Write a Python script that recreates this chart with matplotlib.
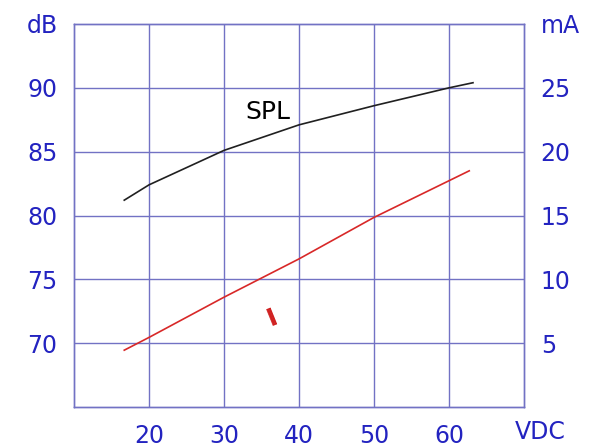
import matplotlib
matplotlib.use("Agg")
import matplotlib.pyplot as plt

# Data
spl_v = [16.7, 20, 30, 40, 50, 60, 63.2]
spl_db = [81.2, 82.4, 85.1, 87.1, 88.6, 90.0, 90.4]

cur_v = [16.7, 20, 30, 40, 50, 62.7]
cur_ma = [4.45, 5.45, 8.6, 11.6, 14.85, 18.5]

x_ticks = [20, 30, 40, 50, 60]
left_ticks = [70, 75, 80, 85, 90]
right_ticks = [5, 10, 15, 20, 25]

grid_col = "#7272c4"
txt_col = "#2323c0"
fs = 17

plt.rcParams['font.family'] = ['DejaVu Sans']

fig = plt.figure(figsize=(5.89, 4.48), dpi=100)
ax = fig.add_axes([74/589, 41/448, 450/589, 383/448])
ax.set_xlim(10, 70)
ax.set_ylim(65, 95)
ax2 = ax.twinx()
ax2.set_ylim(0, 30)

ax.set_xticks(x_ticks)
ax.set_yticks(left_ticks)
ax2.set_yticks(right_ticks)
ax.grid(True, color=grid_col, lw=1.0)
for a in (ax, ax2):
    for s in a.spines.values():
        s.set_color(grid_col)
        s.set_linewidth(1.0)
    a.tick_params(length=0, labelsize=fs, labelcolor=txt_col, pad=12)

ax.plot(spl_v, spl_db, color="#202020", lw=1.2)
ax2.plot(cur_v, cur_ma, color="#d82828", lw=1.2)

ax.text(35.8, 88.1, "SPL", fontsize=18, color="black", ha="center", va="center")
ax2.text(36.4, 7.0, "I", fontsize=18, color="#d02020", ha="center", va="center",
         rotation=22, fontweight="bold")

fig.text(42/589, 1 - 26/448, "dB", fontsize=fs, color=txt_col, ha="center", va="center")
fig.text(560/589, 1 - 26/448, "mA", fontsize=fs, color=txt_col, ha="center", va="center")
fig.text(540/589, 1 - 432/448, "VDC", fontsize=fs, color=txt_col, ha="center", va="center")

fig.savefig("out.png", dpi=100, facecolor="white")
